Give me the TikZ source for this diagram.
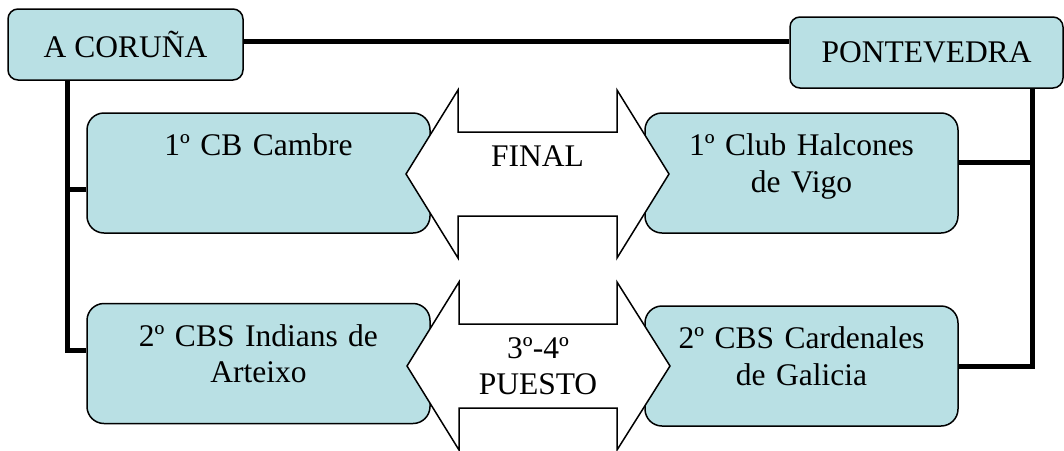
\documentclass[tikz,border=0pt]{standalone}
\usepackage{fontspec}
\setmainfont{Liberation Serif}
\usepackage{tikz}
\usetikzlibrary{calc}
\definecolor{clubfill}{RGB}{185,224,228}

\begin{document}
\begin{tikzpicture}[x=1pt, y=-1pt,
  font=\fontsize{31.5pt}{36.5pt}\selectfont,
  zone/.style={draw, line width=1.5pt, rounded corners=10pt, fill=clubfill, minimum height=71pt},
  team/.style={draw, line width=1.5pt, rounded corners=17pt, fill=clubfill, align=center, text width=300pt, text height=22pt, text depth=57pt, minimum height=120pt},
  link/.style={line width=5pt},
  bigarrow/.style={draw, line width=1.5pt, fill=white, line join=miter},
  arrowtext/.style={align=center, text width=150pt, inner sep=0pt, text height=22pt, text depth=38pt}]
\useasboundingbox (0, 0) rectangle (1064, 450);

\node[zone, minimum width=235pt] (acoruna) at (125.5, 44.5) {A CORUÑA};
\node[zone, minimum width=273pt] (pontevedra) at (926.5, 52.5) {PONTEVEDRA};

\node[team, minimum width=343pt] (cambre) at (258.5, 173) {1º CB Cambre};
\node[team, minimum width=343pt] (indians) at (258.5, 363.5) {2º CBS Indians de\\Arteixo};
\node[team, minimum width=313pt] (halcones) at (801.5, 173) {1º Club Halcones\\de Vigo};
\node[team, minimum width=313pt] (cardenales) at (801.5, 366) {2º CBS Cardenales\\de Galicia};

\coordinate (ltrunk) at ([xshift=60pt]acoruna.south west);
\coordinate (rtrunk) at ([xshift=-31pt]pontevedra.south east);

\draw[link] ([yshift=3.5pt]acoruna.east) -- ([yshift=11.5pt]pontevedra.west);
\draw[link] (ltrunk) |- ([yshift=13.5pt]indians.west);
\draw[link] ([yshift=-16pt]cambre.west) -| (ltrunk);
\draw[link] (rtrunk) |- (cardenales.east);
\draw[link] ([yshift=11pt]halcones.east) -| (rtrunk);

\draw[bigarrow] (406, 174) -- (458, 90) -- (458, 132) -- (617, 132) -- (617, 90) -- (669, 174) -- (617, 258) -- (617, 216) -- (458, 216) -- (458, 258) -- cycle;
\draw[bigarrow] (407, 366) -- (459, 282) -- (459, 324) -- (617, 324) -- (617, 282) -- (670, 366) -- (617, 450) -- (617, 408) -- (459, 408) -- (459, 450) -- cycle;

\node[arrowtext] (final) at (537.5, 174) {FINAL};
\node[arrowtext] (puesto) at (538, 366) {3º-4º\\PUESTO};
\end{tikzpicture}
\end{document}
